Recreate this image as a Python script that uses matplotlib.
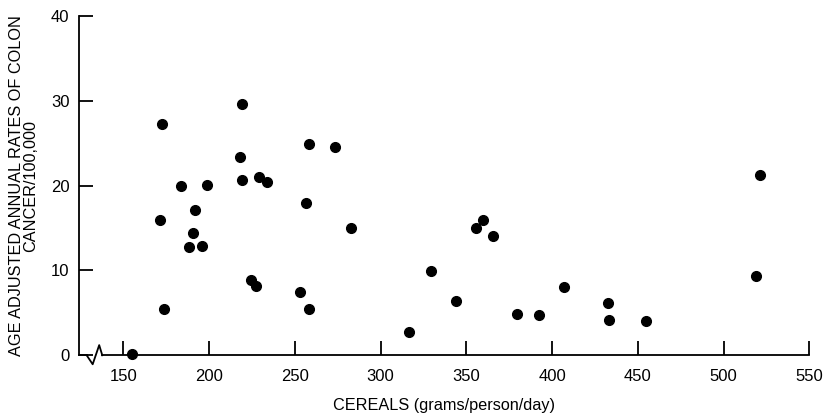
import matplotlib
matplotlib.use("Agg")
import matplotlib.pyplot as plt

plt.rcParams['font.family'] = ['Liberation Sans', 'DejaVu Sans']

# cereal intake (g/person/day) vs colon cancer rate per 100,000
cereals = [155, 172.7, 171.4, 173.9, 183.6, 192.0, 190.4, 188.1, 195.7, 198.6,
           219.3, 218.2, 219.3, 228.9, 233.7, 224.2, 227.2, 253.0, 258.2, 256.3,
           258.4, 273.5, 282.7, 316.5, 329.5, 343.7, 355.4, 359.6, 365.6, 379.8,
           392.1, 407.2, 432.3, 432.9, 454.6, 521.0, 518.7]
rates = [0.15, 27.2, 16.0, 5.5, 19.9, 17.1, 14.4, 12.8, 12.9, 20.1,
         29.6, 23.4, 20.6, 21.0, 20.4, 8.9, 8.2, 7.4, 5.4, 18.0,
         24.9, 24.5, 15.0, 2.8, 9.9, 6.4, 15.0, 15.9, 14.1, 4.9,
         4.7, 8.1, 6.2, 4.2, 4.0, 21.2, 9.3]

xticks = [150, 200, 250, 300, 350, 400, 450, 500, 550]
yticks = [0, 10, 20, 30, 40]

x_lo, x_hi = 124.4, 550
brk = (128.7, 137.8)

fig = plt.figure(figsize=(8.26, 4.17), dpi=100)
ax = fig.add_axes([0.096, 0.148, 0.884, 0.814])

ax.plot(cereals, rates, 'o', color='black', markersize=7, clip_on=False, zorder=3)

ax.set_xlim(x_lo, x_hi)
ax.set_ylim(0, 40)
ax.set_xticks(xticks)
ax.set_yticks(yticks)

for s in ['top', 'right', 'bottom']:
    ax.spines[s].set_visible(False)
ax.spines['left'].set_linewidth(1.3)

# x axis drawn by hand so it can carry the break mark
lw = 1.3
ax.plot([x_lo, brk[0]], [0, 0], color='black', lw=lw, clip_on=False)
ax.plot([brk[1], x_hi], [0, 0], color='black', lw=lw, clip_on=False)
ax.plot([brk[0], 132.2, 136.0, brk[1]], [0, -1.06, 1.2, 0],
        color='black', lw=lw, clip_on=False)

ax.tick_params(axis='both', direction='in', length=10, width=1.3,
               labelsize=12, colors='black')
ax.tick_params(axis='x', pad=10)
ax.tick_params(axis='y', pad=7)

ax.set_xlabel('CEREALS (grams/person/day)', fontsize=11.7, va='center')
ax.xaxis.set_label_coords(0.5, -0.149)
ax.set_ylabel('AGE ADJUSTED ANNUAL RATES OF COLON\nCANCER/100,000',
              fontsize=11.7, linespacing=0.95, labelpad=9)

fig.savefig('out.png', dpi=100)
